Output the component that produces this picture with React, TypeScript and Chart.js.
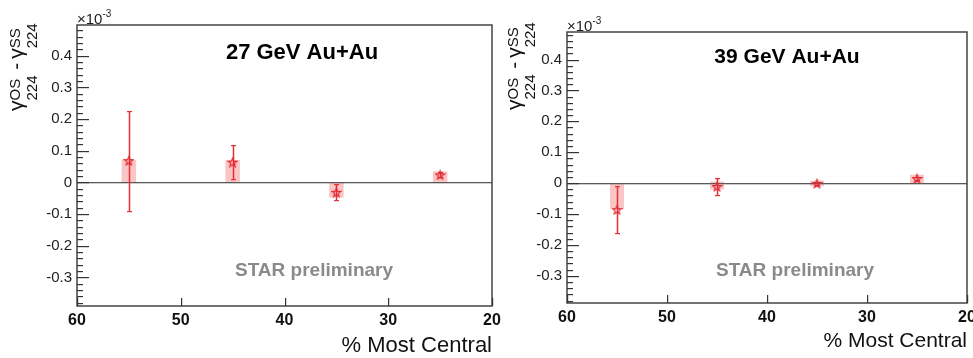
import React, { useEffect, useRef } from "react";
import { Chart, registerables } from "chart.js";
Chart.register(...registerables);

const FONT = '"Liberation Sans", Arial, Helvetica, sans-serif';

// ---- data ----
const centrality = [55, 45, 35, 25];
const xTicks = [60, 50, 40, 30, 20];
const yTicks = [-0.3, -0.2, -0.1, 0, 0.1, 0.2, 0.3, 0.4];

const gamma27 = [0.069, 0.064, -0.031, 0.024];
const stat27 = [0.158, 0.054, 0.025, 0.008];
const sysLow27 = [0, 0, -0.048, 0];
const sysHigh27 = [0.071, 0.071, 0, 0.035];

const gamma39 = [-0.086, -0.011, -0.001, 0.015];
const stat39 = [0.077, 0.028, 0.004, 0.005];
const sysLow39 = [-0.084, -0.02, -0.01, 0];
const sysHigh39 = [0, 0.005, 0.008, 0.027];

const title27 = "27 GeV Au+Au";
const title39 = "39 GeV Au+Au";
const watermark = "STAR preliminary";
const xTitle = "% Most Central";

type Panel = {
  title: string;
  gamma: number[];
  stat: number[];
  sysLow: number[];
  sysHigh: number[];
  yMin: number;
  yMax: number;
  canvasLeft: number;
  canvasWidth: number;
  yAxisW: number;
  padR: number;
  padT: number;
  xAxisH: number;
  titlePos: [number, number, number];
  starPos: [number, number];
  xTitlePos: [number, number, number];
  expPos: [number, number];
  yLabelPos: [number, number];
};

const panels: Panel[] = [
  {
    title: title27, gamma: gamma27, stat: stat27, sysLow: sysLow27, sysHigh: sysHigh27,
    yMin: -0.39, yMax: 0.497,
    canvasLeft: 0, canvasWidth: 505, yAxisW: 77, padR: 13, padT: 25, xAxisH: 52,
    titlePos: [302, 53, 22], starPos: [314, 271], xTitlePos: [492, 346, 22],
    expPos: [77, 24], yLabelPos: [23, 111],
  },
  {
    title: title39, gamma: gamma39, stat: stat39, sysLow: sysLow39, sysHigh: sysHigh39,
    yMin: -0.388, yMax: 0.489,
    canvasLeft: 505, canvasWidth: 468, yAxisW: 62, padR: 6, padT: 32, xAxisH: 55,
    titlePos: [282, 57, 21], starPos: [290, 271], xTitlePos: [462, 341, 21],
    expPos: [62, 31], yLabelPos: [16, 110],
  },
];

function makeStar(size: number, color: string) {
  const c = document.createElement("canvas");
  c.width = size;
  c.height = size;
  const ctx = c.getContext("2d")!;
  const cx = size / 2, cy = size / 2 + 0.5;
  const R = size / 2 - 1, r = R * 0.42;
  ctx.beginPath();
  for (let i = 0; i < 10; i++) {
    const a = -Math.PI / 2 + (i * Math.PI) / 5;
    const rad = i % 2 === 0 ? R : r;
    ctx.lineTo(cx + rad * Math.cos(a), cy + rad * Math.sin(a));
  }
  ctx.closePath();
  ctx.strokeStyle = color;
  ctx.lineWidth = 1.2;
  ctx.stroke();
  return c;
}

function drawYLabel(ctx: CanvasRenderingContext2D, bx: number, by: number) {
  ctx.save();
  ctx.translate(bx, by);
  ctx.rotate(-Math.PI / 2);
  ctx.fillStyle = "#111";
  ctx.textBaseline = "alphabetic";
  ctx.textAlign = "left";
  const main = `21px ${FONT}`;
  const small = `15px ${FONT}`;
  let x = 0;
  const part = (g: string, sup: string, sub: string) => {
    ctx.font = main;
    ctx.fillText(g, x, 0);
    x += ctx.measureText(g).width;
    ctx.font = small;
    const w1 = ctx.measureText(sup).width;
    const w2 = ctx.measureText(sub).width;
    ctx.fillText(sup, x, -3);
    ctx.fillText(sub, x, 14);
    x += Math.max(w1, w2);
  };
  part("γ", "OS", "224");
  ctx.font = main;
  ctx.fillText(" -", x, 0);
  x += ctx.measureText(" - ").width - 2;
  part("γ", "SS", "224");
  ctx.restore();
}

function PanelChart({ p }: { p: Panel }) {
  const ref = useRef<HTMLCanvasElement | null>(null);
  useEffect(() => {
    const canvas = ref.current!;
    const star = makeStar(11, "#e3262e");
    const halfW = 0.7;

    const overlay = {
      id: "overlay",
      beforeDatasetsDraw(chart: any) {
        const { ctx, chartArea: a, scales } = chart;
        const xs = scales.x, ys = scales.y;
        ctx.save();
        // systematic boxes
        ctx.fillStyle = "rgba(245,150,150,0.55)";
        centrality.forEach((c, i) => {
          const x1 = xs.getPixelForValue(c + halfW);
          const x2 = xs.getPixelForValue(c - halfW);
          const y1 = ys.getPixelForValue(p.sysHigh[i]);
          const y2 = ys.getPixelForValue(p.sysLow[i]);
          ctx.fillRect(Math.min(x1, x2), y1, Math.abs(x2 - x1), Math.max(y2 - y1, 1));
        });
        // zero line
        const y0 = Math.round(ys.getPixelForValue(0));
        ctx.fillStyle = "#5a5a5a";
        ctx.fillRect(a.left, y0, a.right - a.left, 1.3);
        // stat error bars
        ctx.fillStyle = "#e5303a";
        centrality.forEach((c, i) => {
          const x = Math.round(xs.getPixelForValue(c));
          const yt = Math.round(ys.getPixelForValue(p.gamma[i] + p.stat[i]));
          const yb = Math.round(ys.getPixelForValue(p.gamma[i] - p.stat[i]));
          ctx.fillRect(x - 0.25, yt, 1.5, yb - yt + 1);
          ctx.fillRect(x - 2, yt, 5, 1.2);
          ctx.fillRect(x - 2, yb, 5, 1.2);
        });
        ctx.restore();
      },
      afterDraw(chart: any) {
        const { ctx, chartArea: a, scales } = chart;
        const xs = scales.x, ys = scales.y;
        ctx.save();
        // frame
        ctx.strokeStyle = "#444";
        ctx.lineWidth = 1.5;
        ctx.strokeRect(a.left, a.top, a.right - a.left, a.bottom - a.top);
        // y ticks (major every 0.1, minor every 0.02)
        ctx.fillStyle = "#333";
        const start = Math.ceil(p.yMin / 0.02 - 1e-6);
        const end = Math.floor(p.yMax / 0.02 + 1e-6);
        for (let k = start; k <= end; k++) {
          const v = k * 0.02;
          const isMajor = Math.abs(k % 5) === 0;
          const y = Math.round(ys.getPixelForValue(v));
          ctx.fillRect(a.left, y, isMajor ? 12 : 6, 1.2);
        }
        // x ticks
        xTicks.forEach((v) => {
          const x = Math.round(xs.getPixelForValue(v));
          ctx.fillRect(x, a.bottom - 8, 1.2, 8);
        });

        // title
        ctx.fillStyle = "#000";
        ctx.textAlign = "center";
        ctx.textBaseline = "middle";
        ctx.font = `bold ${p.titlePos[2]}px ${FONT}`;
        ctx.fillText(p.title, p.titlePos[0], p.titlePos[1]);
        // watermark
        ctx.fillStyle = "#8a8a8a";
        ctx.font = `bold 19px ${FONT}`;
        ctx.fillText(watermark, p.starPos[0], p.starPos[1]);
        // x title
        ctx.fillStyle = "#111";
        ctx.textAlign = "right";
        ctx.font = `${p.xTitlePos[2]}px ${FONT}`;
        ctx.fillText(xTitle, p.xTitlePos[0], p.xTitlePos[1]);
        // exponent
        ctx.textAlign = "left";
        ctx.textBaseline = "alphabetic";
        ctx.fillStyle = "#222";
        ctx.font = `15px ${FONT}`;
        ctx.fillText("×10", p.expPos[0], p.expPos[1]);
        const w = ctx.measureText("×10").width;
        ctx.font = `10px ${FONT}`;
        ctx.fillText("-3", p.expPos[0] + w, p.expPos[1] - 7);
        // y label
        drawYLabel(ctx, p.yLabelPos[0], p.yLabelPos[1]);
        ctx.restore();
      },
    };

    const chart = new Chart(canvas, {
      type: "scatter",
      data: {
        datasets: [
          {
            data: centrality.map((c, i) => ({ x: c, y: p.gamma[i] })),
            pointStyle: star as any,
            pointRadius: 5,
            borderColor: "#e3262e",
            backgroundColor: "rgba(0,0,0,0)",
          },
        ],
      },
      options: {
        animation: false,
        responsive: false,
        events: [],
        layout: { padding: { left: 0, right: p.padR, top: p.padT, bottom: 0 } },
        plugins: { legend: { display: false }, tooltip: { enabled: false } },
        scales: {
          x: {
            type: "linear",
            min: 20,
            max: 60,
            reverse: true,
            afterBuildTicks: (s: any) => {
              s.ticks = xTicks.map((v) => ({ value: v }));
            },
            afterFit: (s: any) => {
              s.height = p.xAxisH;
              s.paddingLeft = 0;
              s.paddingRight = 0;
            },
            grid: { display: false, drawTicks: false },
            border: { display: false },
            ticks: {
              font: { family: FONT, size: 16, weight: "bold" },
              color: "#111",
              padding: 5,
              maxRotation: 0,
              autoSkip: false,
              callback: (v: any) => String(v),
            },
          },
          y: {
            type: "linear",
            min: p.yMin,
            max: p.yMax,
            afterBuildTicks: (s: any) => {
              s.ticks = yTicks.map((v) => ({ value: v }));
            },
            afterFit: (s: any) => {
              s.width = p.yAxisW;
              s.paddingTop = 0;
              s.paddingBottom = 0;
            },
            grid: { display: false, drawTicks: false },
            border: { display: false },
            ticks: {
              font: { family: FONT, size: 15 },
              color: "#222",
              padding: 5,
              autoSkip: false,
              callback: (v: any) => (Math.abs(v) < 1e-9 ? "0" : Number(v).toFixed(1)),
            },
          },
        },
      },
      plugins: [overlay],
    } as any);
    return () => chart.destroy();
  }, [p]);
  return (
    <canvas
      ref={ref}
      width={p.canvasWidth}
      height={358}
      style={{ position: "absolute", left: p.canvasLeft, top: 0, width: p.canvasWidth, height: 358 }}
    />
  );
}

export default function App() {
  return (
    <div style={{ position: "fixed", left: 0, top: 0, width: 973, height: 358, background: "#fff", overflow: "hidden" }}>
      {panels.map((p, i) => (
        <PanelChart key={i} p={p} />
      ))}
    </div>
  );
}
